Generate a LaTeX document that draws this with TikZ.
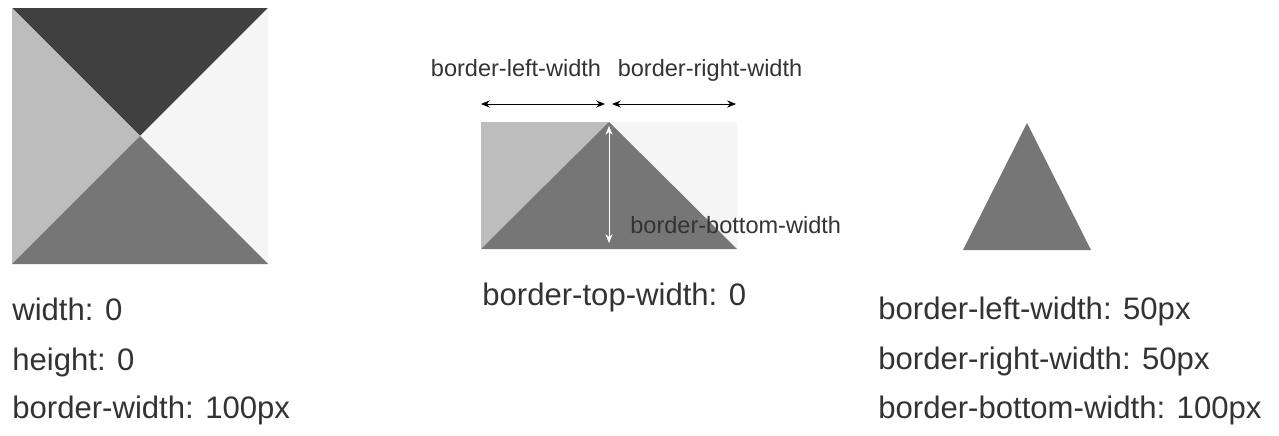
\documentclass[tikz,border=0pt]{standalone}
\usepackage{fontspec}
\setmainfont{Liberation Sans}
\usetikzlibrary{arrows.meta}
\definecolor{bdark}{HTML}{404040}
\definecolor{bmid}{HTML}{767676}
\definecolor{blight}{HTML}{BDBDBD}
\definecolor{bpale}{HTML}{F5F5F5}
\definecolor{txt}{HTML}{333333}
\tikzset{
  caption/.style={font=\fontsize{17.7}{20}\selectfont, text=txt, anchor=base west, inner sep=0pt},
  small/.style={font=\fontsize{13.4}{15}\selectfont, text=txt, anchor=base, inner sep=0pt},
  dim/.style={{Stealth[length=5pt,width=4pt]}-{Stealth[length=5pt,width=4pt]}, thin}
}
\begin{document}
\begin{tikzpicture}[x=0.02cm, y=-0.02cm]
  \useasboundingbox (0,0) rectangle (1279,436);
  % square with four borders
  \fill[bdark] (12,8) -- (268,8) -- (140,136) -- cycle;
  \fill[blight] (12,8) -- (140,136) -- (12,264) -- cycle;
  \fill[bpale] (268,8) -- (268,264) -- (140,136) -- cycle;
  \fill[bmid] (12,264) -- (140,136) -- (268,264) -- cycle;
  \node[caption] (w) at (12,320) {width: 0};
  \node[caption] (h) at (12,370) {height: 0};
  \node[caption] (bw) at (12,418) {border-width: 100px};

  % top border removed
  \fill[blight] (481,122) -- (609,122) -- (481,249) -- cycle;
  \fill[bpale] (609,122) -- (737,122) -- (737,249) -- cycle;
  \fill[bmid] (481,249) -- (609,122) -- (737,249) -- cycle;
  \coordinate (l1) at (481,104);
  \coordinate (l2) at (605,104);
  \coordinate (r1) at (612,104);
  \coordinate (r2) at (736,104);
  \coordinate (b1) at (609,126);
  \coordinate (b2) at (609,243);
  \draw[dim] (l1) -- (l2);
  \draw[dim] (r1) -- (r2);
  \draw[dim, white] (b1) -- (b2);
  \node[small] (lw) at (516,76) {border-left-width};
  \node[small] (rw) at (710,76) {border-right-width};
  \node[small, anchor=base west] (bbw) at (630,233) {border-bottom-width};
  \node[caption] (tw) at (482,305) {border-top-width: 0};

  % triangle
  \fill[bmid] (1027,123) -- (1091,250) -- (963,250) -- cycle;
  \node[caption] (blw) at (878,319) {border-left-width: 50px};
  \node[caption] (brw) at (878,369) {border-right-width: 50px};
  \node[caption] (bbw2) at (878,418) {border-bottom-width: 100px};
\end{tikzpicture}
\end{document}
